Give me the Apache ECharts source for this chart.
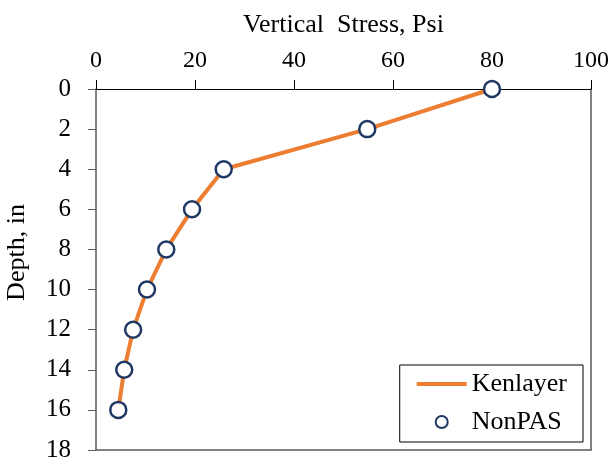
<!DOCTYPE html>
<html>
<head>
<meta charset="utf-8">
<script src="https://cdn.jsdelivr.net/npm/echarts@6/dist/echarts.min.js"></script>
<style>html,body{margin:0;padding:0;background:#fff}#c{width:611px;height:462px}</style>
</head>
<body>
<div id="c"></div>
<script>
const depths = [0, 2, 4, 6, 8, 10, 12, 14, 16];
const kenlayer = [80, 54.8, 25.8, 19.4, 14.2, 10.3, 7.5, 5.7, 4.5];
const nonpas = [80, 54.8, 25.8, 19.4, 14.2, 10.3, 7.5, 5.7, 4.5];
const xTicks = [0, 20, 40, 60, 80, 100];
const yTicks = [0, 2, 4, 6, 8, 10, 12, 14, 16, 18];

const font = '"Liberation Serif", "Times New Roman", serif';
const frame = {color: '#595959', width: 1.5};
const chart = echarts.init(document.getElementById('c'), null, {renderer: 'canvas'});
chart.setOption({
  backgroundColor: '#fff',
  animation: false,
  grid: {left: 96, right: 20, top: 89, bottom: 12, containLabel: false, outerBoundsMode: 'none'},
  xAxis: [{
    type: 'value', position: 'top', min: xTicks[0], max: xTicks[xTicks.length-1], interval: 20,
    name: 'Vertical  Stress, Psi', nameLocation: 'middle', nameGap: 51,
    nameTextStyle: {fontFamily: font, fontSize: 26, color: '#000'},
    axisLine: {show: true, onZero: false, lineStyle: {color: '#000', width: 1}},
    axisTick: {show: true, inside: false, length: 9, lineStyle: {color: '#000'}},
    axisLabel: {fontFamily: font, fontSize: 24, color: '#000', margin: 16},
    splitLine: {show: false}
  }, {
    type: 'value', position: 'bottom', min: xTicks[0], max: xTicks[xTicks.length-1], interval: 20,
    axisLine: {show: true, onZero: false, lineStyle: frame},
    axisTick: {show: false}, axisLabel: {show: false}, splitLine: {show: false}
  }],
  yAxis: [{
    type: 'value', inverse: true, min: yTicks[0], max: yTicks[yTicks.length-1], interval: 2,
    name: 'Depth, in', nameLocation: 'middle', nameGap: 66, nameRotate: 90,
    nameTextStyle: {fontFamily: font, fontSize: 26, color: '#000', padding: [0, 0, 0, 34]},
    axisLine: {show: true, onZero: false, lineStyle: frame},
    axisTick: {show: true, inside: false, length: 8, lineStyle: {color: '#595959'}},
    axisLabel: {fontFamily: font, fontSize: 25, color: '#000', margin: 25},
    splitLine: {show: false}
  }, {
    type: 'value', position: 'right', inverse: true, min: yTicks[0], max: yTicks[yTicks.length-1], interval: 2,
    axisLine: {show: true, onZero: false, lineStyle: frame},
    axisTick: {show: false}, axisLabel: {show: false}, splitLine: {show: false}
  }],
  legend: {
    right: 28, bottom: 20,
    orient: 'vertical',
    backgroundColor: '#fff',
    borderColor: '#000', borderWidth: 1, borderRadius: 0,
    padding: [6, 16, 7, 15],
    itemGap: 12,
    itemWidth: 50, itemHeight: 12,
    textStyle: {fontFamily: font, fontSize: 26, color: '#000'},
    data: [
      {name: 'Kenlayer', itemStyle: {opacity: 0}, lineStyle: {width: 4, color: '#ED7D31'}},
      {name: 'NonPAS', icon: 'circle'}
    ]
  },
  series: [
    {
      name: 'Kenlayer', type: 'line',
      data: kenlayer.map((v, i) => [v, depths[i]]),
      symbol: 'none',
      lineStyle: {color: '#ED7D31', width: 4},
      itemStyle: {color: '#ED7D31'},
      z: 2
    },
    {
      name: 'NonPAS', type: 'scatter',
      data: nonpas.map((v, i) => [v, depths[i]]),
      symbol: 'circle', symbolSize: 16,
      itemStyle: {color: '#fff', borderColor: '#203864', borderWidth: 2.5, opacity: 1},
      z: 3
    }
  ]
});
</script>
</body>
</html>
